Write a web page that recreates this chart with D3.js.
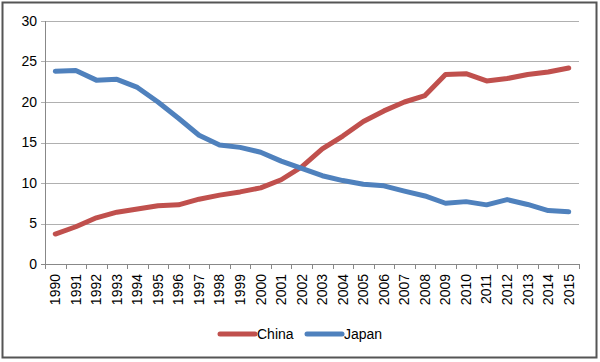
<!DOCTYPE html>
<html>
<head>
<meta charset="utf-8">
<script src="https://cdn.jsdelivr.net/npm/d3@7"></script>
<style>
body { margin: 0; background: #fff; }
text { font-family: "Liberation Sans", Arial, sans-serif; fill: #000; }
</style>
</head>
<body>
<script>
const years = d3.range(1990, 2016).map(String);
const china = [3.7, 4.6, 5.7, 6.4, 6.8, 7.2, 7.3, 8.0, 8.5, 8.9, 9.4, 10.4, 12.0, 14.2, 15.8, 17.6, 18.9, 20.0, 20.8, 23.4, 23.5, 22.6, 22.9, 23.4, 23.7, 24.2];
const japan = [23.8, 23.9, 22.7, 22.8, 21.8, 20.0, 18.0, 15.9, 14.7, 14.4, 13.8, 12.7, 11.8, 10.9, 10.3, 9.85, 9.65, 9.0, 8.4, 7.5, 7.7, 7.3, 7.95, 7.35, 6.6, 6.45];
const yTicks = [0, 5, 10, 15, 20, 25, 30];
const seriesNames = ["China", "Japan"];
const colors = ["#c0504d", "#4f81bd"];

const width = 600, height = 362,
    margin = { left: 45, right: 21, top: 21, bottom: 98 };

const svg = d3.select("body").append("svg")
    .attr("width", width)
    .attr("height", height);

// frame
svg.append("rect")
    .attr("x", 2.5).attr("y", 2.5)
    .attr("width", 594).attr("height", 355)
    .attr("fill", "none").attr("stroke", "#555").attr("stroke-width", 2);

const x = d3.scaleBand()
    .domain(years)
    .range([margin.left, width - margin.right]);

const y = d3.scaleLinear()
    .domain([0, 30])
    .range([height - margin.bottom, margin.top]);

// gridlines
svg.append("g")
    .selectAll("line")
    .data(yTicks)
    .join("line")
    .attr("x1", margin.left - 4)
    .attr("x2", width - margin.right)
    .attr("y1", d => Math.round(y(d)) + 0.5)
    .attr("y2", d => Math.round(y(d)) + 0.5)
    .attr("stroke", d => d === 0 ? "#888" : "#b0b0b0");

// y axis line
svg.append("line")
    .attr("x1", margin.left + 0.5).attr("x2", margin.left + 0.5)
    .attr("y1", y(30)).attr("y2", y(0))
    .attr("stroke", "#888");

svg.append("g")
    .selectAll("text")
    .data(yTicks)
    .join("text")
    .attr("x", 37)
    .attr("y", d => y(d))
    .attr("dy", "0.35em")
    .attr("text-anchor", "end")
    .style("font-size", "14px")
    .text(d => d);

// x ticks
const xTickPos = years.map(d => x(d)).concat([width - margin.right]);
svg.append("g")
    .selectAll("line")
    .data(xTickPos)
    .join("line")
    .attr("x1", d => Math.round(d) + 0.5)
    .attr("x2", d => Math.round(d) + 0.5)
    .attr("y1", y(0))
    .attr("y2", y(0) + 5)
    .attr("stroke", "#888");

svg.append("g")
    .selectAll("text")
    .data(years)
    .join("text")
    .attr("transform", d => "translate(" + (x(d) + x.bandwidth() / 2) + "," + (y(0) + 10) + ") rotate(-90)")
    .attr("dy", "0.35em")
    .attr("text-anchor", "end")
    .style("font-size", "14px")
    .text(d => d);

// lines
const line = d3.line()
    .x((d, i) => x(years[i]) + x.bandwidth() / 2)
    .y(d => y(d));

[china, japan].forEach((s, i) => {
    svg.append("path")
        .datum(s)
        .attr("d", line)
        .attr("fill", "none")
        .attr("stroke", colors[i])
        .attr("stroke-width", 5)
        .attr("stroke-linejoin", "round")
        .attr("stroke-linecap", "round");
});

// legend
const legendX = [220, 307];
const legend = svg.append("g")
    .selectAll("g")
    .data(seriesNames)
    .join("g")
    .attr("transform", (d, i) => "translate(" + legendX[i] + ",334)");

legend.append("line")
    .attr("x1", 0).attr("x2", 35)
    .attr("stroke", (d, i) => colors[i])
    .attr("stroke-width", 5)
    .attr("stroke-linecap", "round");

legend.append("text")
    .attr("x", 37)
    .attr("dy", "0.35em")
    .style("font-size", "14px")
    .text(d => d);
</script>
</body>
</html>
